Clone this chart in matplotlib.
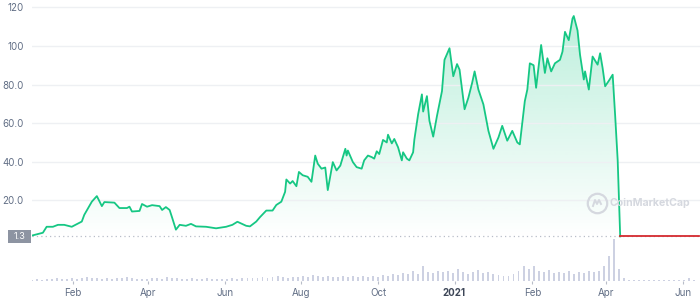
import numpy as np
import pandas as pd
import matplotlib
matplotlib.use("Agg")
import matplotlib.pyplot as plt
import matplotlib.dates as mdates
from matplotlib.patches import Rectangle

# price series
dates = ["2019-12-30", "2020-01-08", "2020-01-11", "2020-01-16", "2020-01-20", "2020-01-25", "2020-01-31",
         "2020-02-08", "2020-02-10", "2020-02-16", "2020-02-20", "2020-02-24", "2020-02-26", "2020-03-05",
         "2020-03-09", "2020-03-15", "2020-03-17", "2020-03-19", "2020-03-25", "2020-03-27", "2020-03-31",
         "2020-04-04", "2020-04-10", "2020-04-12", "2020-04-15", "2020-04-18", "2020-04-20", "2020-04-23",
         "2020-04-26", "2020-05-01", "2020-05-05", "2020-05-09", "2020-05-17", "2020-05-25", "2020-06-02",
         "2020-06-07", "2020-06-11", "2020-06-18", "2020-06-21", "2020-06-26", "2020-06-29", "2020-07-04",
         "2020-07-09", "2020-07-12", "2020-07-16", "2020-07-19", "2020-07-20", "2020-07-23", "2020-07-25",
         "2020-07-28", "2020-07-30", "2020-08-02", "2020-08-06", "2020-08-09", "2020-08-12", "2020-08-14",
         "2020-08-17", "2020-08-20", "2020-08-22", "2020-08-26", "2020-08-29", "2020-09-01", "2020-09-05",
         "2020-09-06", "2020-09-07", "2020-09-11", "2020-09-14", "2020-09-18", "2020-09-20", "2020-09-23",
         "2020-09-26", "2020-09-28", "2020-09-30", "2020-10-02", "2020-10-05", "2020-10-08", "2020-10-09",
         "2020-10-12", "2020-10-14", "2020-10-17", "2020-10-20", "2020-10-21", "2020-10-24", "2020-10-26",
         "2020-10-29", "2020-10-30", "2020-11-02", "2020-11-05", "2020-11-06", "2020-11-09", "2020-11-11",
         "2020-11-14", "2020-11-17", "2020-11-21", "2020-11-23", "2020-11-27", "2020-11-30", "2020-12-03",
         "2020-12-05", "2020-12-09", "2020-12-12", "2020-12-15", "2020-12-17", "2020-12-20", "2020-12-24",
         "2020-12-28", "2021-01-01", "2021-01-05", "2021-01-08", "2021-01-12", "2021-01-16", "2021-01-20",
         "2021-01-22", "2021-01-26", "2021-01-28", "2021-01-30", "2021-02-02", "2021-02-04", "2021-02-08",
         "2021-02-11", "2021-02-13", "2021-02-16", "2021-02-19", "2021-02-23", "2021-02-25", "2021-02-27",
         "2021-03-02", "2021-03-05", "2021-03-06", "2021-03-09", "2021-03-11", "2021-03-14", "2021-03-15",
         "2021-03-18", "2021-03-21", "2021-03-25", "2021-03-27", "2021-03-29", "2021-03-31", "2021-04-03",
         "2021-04-06", "2021-04-08", "2021-04-10", "2021-04-12"]
prices = [1.7, 3.2, 6.3, 6.3, 7.3, 7.3, 6.3,
          9.0, 12.5, 19.3, 22.2, 17.0, 19.1, 18.8,
          16.0, 16.0, 16.7, 14.2, 14.5, 18.1, 16.7,
          17.5, 17.0, 15.0, 16.5, 15.0, 11.0, 4.8,
          7.3, 6.8, 7.8, 6.5, 6.3, 5.5, 6.3,
          7.3, 8.9, 6.8, 6.5, 9.0, 11.3, 14.7,
          14.7, 17.6, 19.3, 24.4, 30.8, 28.7, 30.0,
          27.3, 34.7, 33.0, 32.2, 29.6, 43.2, 39.0,
          36.4, 37.0, 25.3, 39.8, 35.5, 38.0, 46.7,
          43.2, 45.8, 39.8, 37.2, 36.4, 40.7, 43.2,
          42.4, 41.6, 45.4, 44.0, 51.3, 50.0, 54.0,
          49.5, 51.8, 47.5, 40.7, 44.9, 41.6, 40.7,
          44.9, 51.5, 64.6, 74.9, 66.0, 74.0, 61.2,
          53.0, 63.7, 76.6, 92.8, 98.8, 84.3, 90.6,
          87.7, 67.2, 73.1, 80.8, 86.8, 77.4, 69.7,
          56.0, 46.7, 52.6, 58.6, 50.9, 56.0, 50.0,
          49.0, 71.4, 77.4, 91.0, 90.0, 78.3, 100.5,
          86.0, 93.6, 86.8, 91.0, 92.8, 97.0, 107.3,
          103.0, 114.2, 115.5, 108.0, 95.4, 82.6, 86.8,
          77.4, 94.5, 90.3, 96.2, 88.5, 79.1, 82.0,
          85.1, 63.7, 40.7, 1.3]

# flat tail after the crash (drawn in red)
flat_dates = ["2021-04-12", "2021-06-14"]
flat_prices = [1.3, 1.3]
last_price = 1.3

# volume, one bar every 4 days from 2019-12-30 (relative units)
vol_start = "2019-12-30"
volume = [1, 2, 1, 2, 2, 3, 2, 2,
          3, 2, 3, 4, 3, 3, 2,
          3, 2, 3, 3, 4, 3, 2, 2,
          2, 3, 3, 2, 4, 3, 3,
          2, 2, 3, 2, 2, 3, 2, 2,
          2, 2, 3, 2, 3, 3, 3,
          3, 4, 3, 4, 5, 4, 3, 4,
          4, 5, 4, 6, 5, 4, 5, 4,
          4, 5, 4, 5, 4, 5, 4,
          5, 4, 6, 5, 7, 6, 8, 7,
          10, 7, 15, 9, 8, 10, 9,
          10, 8, 12, 9, 7, 9, 11, 8,
          9, 7, 6, 5, 5, 7, 10, 15,
          12, 15, 10, 9, 11, 8, 9,
          8, 10, 7, 9, 8, 10, 9, 10,
          15, 25, 42,
          12, 3, 1, 1, 1, 1, 1, 1, 1, 1, 1, 1, 1, 1, 3, 1]

ytick_vals = [20, 40, 60, 80, 100, 120]
ytick_labels = ["20.0", "40.0", "60.0", "80.0", "100", "120"]
xtick_dates = ["2020-02-01", "2020-04-01", "2020-06-01", "2020-08-01", "2020-10-01",
               "2020-12-01", "2021-02-01", "2021-04-01", "2021-06-01"]
xtick_labels = ["Feb", "Apr", "Jun", "Aug", "Oct", "2021", "Feb", "Apr", "Jun"]

green = "#16c784"
red = "#d42a2f"
grey = "#616e85"

plt.rcParams['font.family'] = ['Inter', 'DejaVu Sans']

x = pd.to_datetime(dates)
xf = pd.to_datetime(flat_dates)
vol_x = pd.date_range(vol_start, periods=len(volume), freq="4D")
xmin = pd.Timestamp("2019-12-30 08:00")
xmax = pd.Timestamp("2021-06-14 14:00")

fig = plt.figure(figsize=(7, 3.01), dpi=100)
rect = [32 / 700, 1 - 281 / 301, 668 / 700, 281 / 301]

# volume underneath
axv = fig.add_axes(rect)
axv.bar(vol_x, volume, width=1.5, color="#cdd1e2", linewidth=0)
axv.set_xlim(xmin, xmax)
axv.set_ylim(0, 281)
axv.axis("off")

ax = fig.add_axes(rect)
ax.patch.set_alpha(0)
ax.set_xlim(xmin, xmax)
ax.set_ylim(-21.8, 123.8)

# gradient fill under the price line
poly = ax.fill_between(x, prices, 0, color="none", lw=0)
grad = np.zeros((256, 1, 4))
grad[:, 0, :3] = matplotlib.colors.to_rgb(green)
grad[:, 0, 3] = np.linspace(0.0, 0.28, 256)
x0, x1 = mdates.date2num(x[0]), mdates.date2num(x[-1])
im = ax.imshow(grad, extent=[x0, x1, 0, max(prices)], origin="lower", aspect="auto", zorder=1)
im.set_clip_path(poly.get_paths()[0], transform=ax.transData)
ax.set_xlim(xmin, xmax)
ax.set_ylim(-21.8, 123.8)

ax.axhline(last_price, color="#b8bdc8", ls=(0, (1, 2.5)), lw=0.9, zorder=2)
ax.plot(x, prices, color=green, lw=1.3, zorder=3)
ax.plot(xf, flat_prices, color=red, lw=1.3, zorder=3)

ax.set_yticks(ytick_vals, ytick_labels)
ax.grid(axis="y", color="#eef0f3", lw=1, zorder=0)
ax.tick_params(axis="y", length=0, pad=6, labelsize=7, labelcolor=grey)

ax.set_xticks(pd.to_datetime(xtick_dates), xtick_labels)
ax.tick_params(axis="x", length=2.5, width=0.8, color="#b8bdc8", pad=2.5, labelsize=7, labelcolor=grey)
for lbl in ax.get_xticklabels():
    if lbl.get_text() == "2021":
        lbl.set_fontweight("bold")
        lbl.set_color("#3d4657")
for s in ax.spines.values():
    s.set_visible(False)

# current price tag on the left
fig.patches.append(Rectangle((8 / 700, 1 - 243 / 301), 23 / 700, 13 / 301,
                             transform=fig.transFigure, facecolor="#8d94a2", edgecolor="none"))
fig.text(19.5 / 700, 1 - 236.5 / 301, "1.3", ha="center", va="center", fontsize=6.5, color="white")

# watermark: ring logo with a small wave inside, then the name
wm = "#d5d8df"
cx, cy = 597, 203
ax.plot([cx / 700], [1 - cy / 301], marker="o", ms=14, mfc="none", mec=wm, mew=1.6,
        transform=fig.transFigure, clip_on=False)
ax.plot([(cx - 4) / 700, (cx - 2) / 700, cx / 700, (cx + 2) / 700, (cx + 4) / 700],
        [1 - (cy + 3) / 301, 1 - (cy - 3) / 301, 1 - (cy + 1) / 301, 1 - (cy - 3) / 301, 1 - (cy + 1) / 301],
        color=wm, lw=1.4, transform=fig.transFigure, clip_on=False)
fig.text(609 / 700, 1 - cy / 301, "CoinMarketCap", ha="left", va="center", fontsize=7.6,
         color=wm, fontweight="bold")

fig.savefig("out.png", dpi=100)
